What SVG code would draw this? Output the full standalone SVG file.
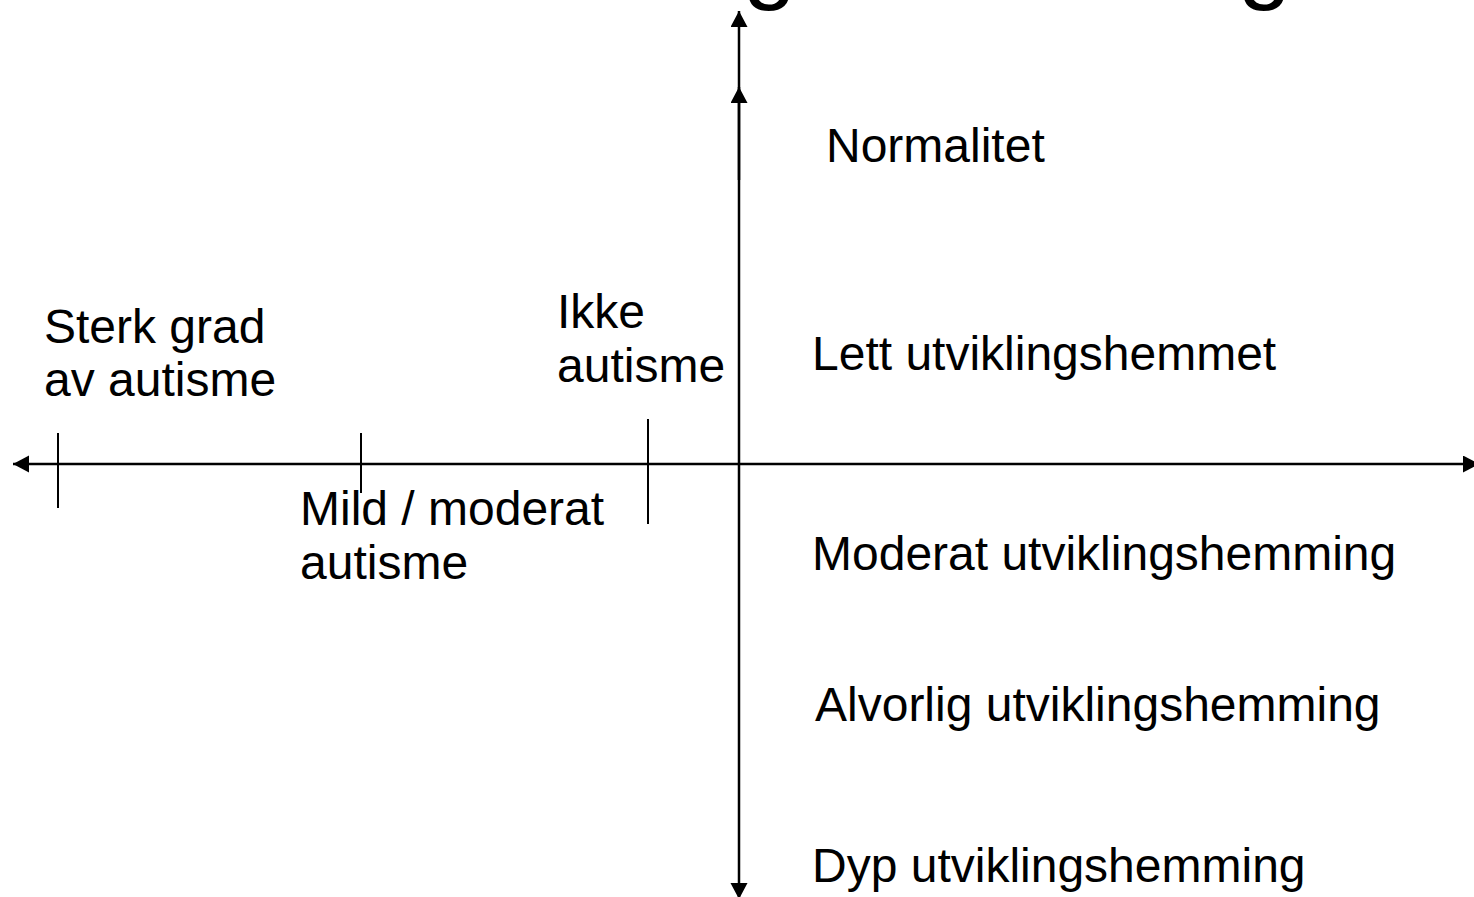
<svg xmlns="http://www.w3.org/2000/svg" width="1474" height="897" viewBox="0 0 1474 897">
<style>
.lbl{font-family:"Liberation Sans",Arial,sans-serif;font-size:48px;fill:#000}
.ttl{font-family:"Liberation Sans",Arial,sans-serif;font-size:96px;fill:#000}
.ax{stroke:#000;stroke-width:2.5;fill:none}
.tick{stroke:#000;stroke-width:2;fill:none}
</style>
<defs>
<marker id="ah" markerUnits="userSpaceOnUse" markerWidth="17" markerHeight="18" refX="16" refY="8.5" orient="auto-start-reverse" viewBox="0 0 17 18">
<path d="M0,0 L16,8.5 L0,17 z" fill="#000"/>
</marker>
</defs>
<rect width="1474" height="897" fill="#fff"/>
<g id="title">
<text class="ttl" x="743" y="-9">g</text>
<text class="ttl" x="1238" y="-9">g</text>
</g>
<g id="connectors">
<line class="ax" x1="13" y1="464" x2="1479" y2="464" marker-start="url(#ah)" marker-end="url(#ah)"/>
<line class="ax" x1="739" y1="899" x2="739" y2="11" marker-start="url(#ah)" marker-end="url(#ah)"/>
<line class="ax" x1="739" y1="180" x2="739" y2="87" marker-end="url(#ah)"/>
<line class="tick" x1="58" y1="433" x2="58" y2="508"/>
<line class="tick" x1="361" y1="433" x2="361" y2="493"/>
<line class="tick" x1="648" y1="419" x2="648" y2="524"/>
</g>
<g id="n-sterk"><text class="lbl" x="44" y="343">Sterk grad</text><text class="lbl" x="44" y="396">av autisme</text></g>
<g id="n-ikke"><text class="lbl" x="557" y="328">Ikke</text><text class="lbl" x="557" y="382">autisme</text></g>
<g id="n-mild"><text class="lbl" x="300" y="525">Mild / moderat</text><text class="lbl" x="300" y="579">autisme</text></g>
<g id="n-normalitet"><text class="lbl" x="826" y="162">Normalitet</text></g>
<g id="n-lett"><text class="lbl" x="812" y="370">Lett utviklingshemmet</text></g>
<g id="n-moderat"><text class="lbl" x="812" y="570">Moderat utviklingshemming</text></g>
<g id="n-alvorlig"><text class="lbl" x="815" y="721">Alvorlig utviklingshemming</text></g>
<g id="n-dyp"><text class="lbl" x="812" y="882">Dyp utviklingshemming</text></g>
</svg>
